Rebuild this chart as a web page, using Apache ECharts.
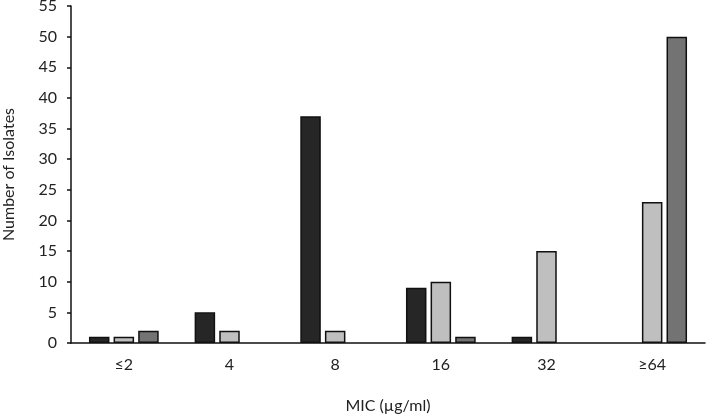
<!DOCTYPE html>
<html>
<head>
<meta charset="utf-8">
<script src="https://cdn.jsdelivr.net/npm/echarts@6/dist/echarts.min.js"></script>
<style>
  html, body { margin: 0; padding: 0; background: #fff; }
  #chart { width: 710px; height: 416px; }
</style>
</head>
<body>
<div id="chart"></div>
<script>
// MIC categories and isolate counts per group
const categories = ['≤2', '4', '8', '16', '32', '≥64']
const groupA = [1, 5, 37, 9, 1, 0]
const groupB = [1, 2, 2, 10, 15, 23]
const groupC = [2, 0, 0, 1, 0, 50]
const yTicks = { min: 0, max: 55, interval: 5 }

const font = 'Lato, "Open Sans", "DejaVu Sans", sans-serif'
const chart = echarts.init(document.getElementById('chart'))

// zero counts draw no bar at all in the original
const barSeries = (data, color) => ({
  type: 'bar',
  data: data.map(v => (v === 0 ? '-' : v)),
  barGap: '20%',
  barCategoryGap: '34%',
  itemStyle: { color: color, borderColor: '#111', borderWidth: 1.5 }
})

chart.setOption({
  animation: false,
  grid: { left: 71, right: 5, top: 6, bottom: 73, outerBoundsMode: 'none' },
  xAxis: {
    type: 'category',
    data: categories,
    name: 'MIC (µg/ml)',
    nameLocation: 'middle',
    nameGap: 55,
    nameTextStyle: { fontFamily: font, fontSize: 16, color: '#222' },
    axisLine: { lineStyle: { color: '#111', width: 1.5 } },
    axisTick: { inside: true, length: 4, lineStyle: { color: '#111', width: 1.5 } },
    axisLabel: { fontFamily: font, fontSize: 16, color: '#222', margin: 14 }
  },
  yAxis: {
    type: 'value',
    min: yTicks.min,
    max: yTicks.max,
    interval: yTicks.interval,
    name: 'Number of Isolates',
    nameLocation: 'middle',
    nameGap: 54,
    nameTextStyle: { fontFamily: font, fontSize: 16, color: '#222' },
    splitLine: { show: false },
    axisLine: { show: true, lineStyle: { color: '#111', width: 1.5 } },
    axisTick: { show: true, length: 4, lineStyle: { color: '#111', width: 1.5 } },
    axisLabel: { fontFamily: font, fontSize: 16, color: '#222', margin: 14 }
  },
  series: [
    barSeries(groupA, '#262626'),
    barSeries(groupB, '#bfbfbf'),
    barSeries(groupC, '#737373')
  ]
})
</script>
</body>
</html>
